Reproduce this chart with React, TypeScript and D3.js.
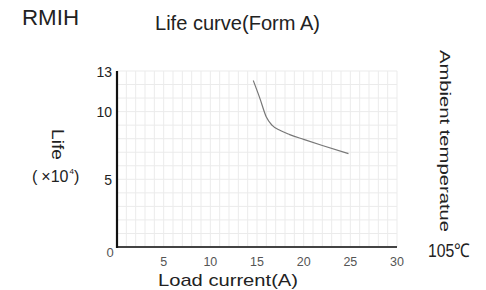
import { useEffect, useRef } from "react";
import * as d3 from "d3";

const curveX = [14.6, 15.3, 16.0, 16.6, 17.5, 18.5, 20, 22, 24.8];
const curveY = [12.3, 11.0, 9.6, 9.0, 8.6, 8.3, 7.95, 7.5, 6.9];
const xTicks = [5, 10, 15, 20, 25, 30];
const yTicks = [5, 10, 13];

export default function App() {
  const svgRef = useRef<SVGSVGElement>(null);

  useEffect(() => {
    const width = 486;
    const height = 290;
    const svg = d3.select(svgRef.current);
    svg.selectAll("*").remove();
    svg.attr("width", width).attr("height", height);

    const font = "'Liberation Sans', Arial, sans-serif";
    const x = d3.scaleLinear().domain([0, 30]).range([117, 397]);
    const y = d3.scaleLinear().domain([0, 13]).range([247, 71]);

    svg.append("rect").attr("width", width).attr("height", height).attr("fill", "#fff");

    // grid
    const g = svg.append("g");
    g.selectAll("line.v")
      .data(d3.range(1, 31))
      .enter()
      .append("line")
      .attr("x1", (d) => x(d))
      .attr("x2", (d) => x(d))
      .attr("y1", y(13))
      .attr("y2", y(0))
      .attr("stroke", "#ebebeb")
      .attr("stroke-width", 1);
    g.selectAll("line.h")
      .data(d3.range(1, 14))
      .enter()
      .append("line")
      .attr("x1", x(0))
      .attr("x2", x(30))
      .attr("y1", (d) => y(d))
      .attr("y2", (d) => y(d))
      .attr("stroke", "#ebebeb")
      .attr("stroke-width", 1);

    // axes
    svg.append("line")
      .attr("x1", x(0)).attr("x2", x(30))
      .attr("y1", y(0)).attr("y2", y(0))
      .attr("stroke", "#444").attr("stroke-width", 2);
    svg.append("line")
      .attr("x1", x(0)).attr("x2", x(0))
      .attr("y1", y(13)).attr("y2", y(0) + 1)
      .attr("stroke", "#111").attr("stroke-width", 2.2);

    // curve
    const pts = curveX.map((v, i) => [v, curveY[i]] as [number, number]);
    const line = d3
      .line<[number, number]>()
      .x((d) => x(d[0]))
      .y((d) => y(d[1]))
      .curve(d3.curveMonotoneX);
    svg.append("path")
      .attr("d", line(pts))
      .attr("fill", "none")
      .attr("stroke", "#777")
      .attr("stroke-width", 1.2);

    // tick labels
    svg.selectAll("text.xt")
      .data(xTicks)
      .enter()
      .append("text")
      .attr("x", (d) => x(d))
      .attr("y", 266)
      .attr("text-anchor", "middle")
      .attr("font-family", font)
      .attr("font-size", 12.5)
      .attr("fill", "#555")
      .text((d) => d);
    svg.append("text")
      .attr("x", 110).attr("y", 257)
      .attr("text-anchor", "middle")
      .attr("font-family", font).attr("font-size", 13).attr("fill", "#555")
      .text("0");
    svg.selectAll("text.yt")
      .data(yTicks)
      .enter()
      .append("text")
      .attr("x", 112)
      .attr("y", (d) => y(d) + 5.5)
      .attr("text-anchor", "end")
      .attr("font-family", font)
      .attr("font-size", 14)
      .attr("fill", "#222")
      .text((d) => d);

    // titles
    const label = (
      tx: number,
      ty: number,
      size: number,
      len: number,
      txt: string,
      rotate = false
    ) =>
      svg.append("text")
        .attr("transform", `translate(${tx},${ty})${rotate ? " rotate(90)" : ""}`)
        .attr("font-family", font)
        .attr("font-size", size)
        .attr("fill", "#222")
        .attr("textLength", len)
        .attr("lengthAdjust", "spacingAndGlyphs")
        .text(txt);

    label(22, 25, 22, 57, "RMIH");
    label(155, 30, 19.5, 165, "Life curve(Form A)");
    label(158, 286, 17, 140, "Load current(A)");
    label(52, 129, 17, 31, "Life", true);
    label(440, 50, 15, 182, "Ambient temperatue", true);
    label(428, 257, 19, 42, "105℃");

    // (×10^4)
    const mult = svg.append("text")
      .attr("x", 32).attr("y", 182)
      .attr("font-family", font).attr("font-size", 16).attr("fill", "#222");
    mult.append("tspan").text("(");
    mult.append("tspan").attr("dx", 4).text("×10");
    mult.append("tspan").attr("font-size", 8).attr("dx", 1).attr("dy", -8).text("4");
    mult.append("tspan").attr("dx", 0).attr("dy", 8).text(")");
  }, []);

  return (
    <svg
      ref={svgRef}
      style={{ position: "absolute", left: 0, top: 0, display: "block" }}
    />
  );
}
